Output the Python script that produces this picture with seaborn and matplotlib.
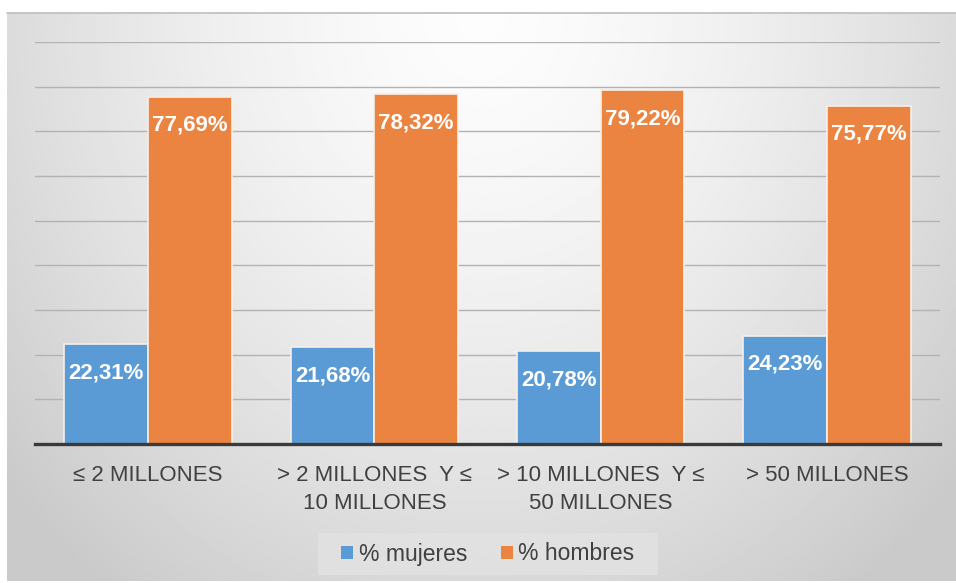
import numpy as np
import pandas as pd
import matplotlib
matplotlib.use("Agg")
import matplotlib.pyplot as plt
from matplotlib.lines import Line2D
from matplotlib.patches import Patch, Rectangle
import seaborn as sns

# Data
categorias = [
    "≤ 2 MILLONES",
    "> 2 MILLONES  Y ≤\n10 MILLONES",
    "> 10 MILLONES  Y ≤\n50 MILLONES",
    "> 50 MILLONES",
]
mujeres = [22.31, 21.68, 20.78, 24.23]
hombres = [77.69, 78.32, 79.22, 75.77]
series = ["% mujeres", "% hombres"]
colores = ["#5B9BD5", "#EC8441"]

df = pd.DataFrame({
    "categoria": categorias * 2,
    "serie": [series[0]] * len(categorias) + [series[1]] * len(categorias),
    "valor": mujeres + hombres,
})

sns.set_theme(style="white")
plt.rcParams["font.family"] = ["Liberation Sans", "DejaVu Sans"]

W, H = 956, 583
fig = plt.figure(figsize=(W / 100, H / 100), dpi=100, facecolor="white")

# Soft gradient panel behind the chart
bg = fig.add_axes([7 / W, 2 / H, 1 - 7 / W, (H - 13 - 2) / H])
ny, nx = 300, 500
yy, xx = np.mgrid[0:1:ny * 1j, 0:1:nx * 1j]
r = np.sqrt(((xx - 0.5) / 0.55) ** 2 + (yy / 1.05) ** 2)
shade = np.clip(0.99 - 0.15 * r ** 1.5, 0.79, 1.0)
bg.imshow(shade, cmap="gray", vmin=0, vmax=1, aspect="auto",
          extent=[0, 1, 1, 0], interpolation="bilinear")
bg.set_axis_off()
fig.add_artist(Line2D([7 / W, 1], [1 - 13 / H, 1 - 13 / H],
                      transform=fig.transFigure, color="#bdbdbd", lw=1.2))

# Legend backdrop
fig.add_artist(Rectangle((318 / W, 1 - 575 / H), 340 / W, 42 / H,
                         transform=fig.transFigure, facecolor="#e2e2e2",
                         edgecolor="none", alpha=0.85))

# Bars
ax = fig.add_axes([35 / W, 139 / H, 905 / W, 402 / H])
ax.patch.set_alpha(0)
sns.barplot(data=df, x="categoria", y="valor", hue="serie", palette=colores,
            width=0.74, saturation=1, edgecolor="#f6efe8", linewidth=1.2,
            legend=False, ax=ax)

ax.set_ylim(0, 90)
ax.set_yticks(range(0, 91, 10))
ax.yaxis.grid(True, color="#b3b3b3", lw=1)
ax.set_axisbelow(True)
ax.set_yticklabels([])
ax.set_xlabel("")
ax.set_ylabel("")
for s in ["left", "right", "top"]:
    ax.spines[s].set_visible(False)
ax.spines["bottom"].set_color("#3a3a3a")
ax.spines["bottom"].set_linewidth(2.4)
ax.tick_params(axis="both", length=0)
ax.tick_params(axis="x", pad=15, labelsize=16, labelcolor="#404040")
plt.setp(ax.get_xticklabels(), linespacing=1.42)

def fmt(v):
    return f"{v:.2f}".replace(".", ",") + "%"

for cont, vals in zip(ax.containers, [mujeres, hombres]):
    for bar, v in zip(cont, vals):
        x = bar.get_x() + bar.get_width() / 2
        ax.annotate(fmt(v), (x, v), xytext=(0, -20.5), textcoords="offset points",
                    ha="center", va="center", color="white",
                    fontweight="bold", fontsize=16)

handles = [Patch(facecolor=c, edgecolor="none") for c in colores]
leg = fig.legend(handles, series, loc="center", bbox_to_anchor=(488 / W, 1 - 554 / H),
                 ncol=2, frameon=False, fontsize=16.5, handlelength=0.5, handleheight=0.5,
                 handletextpad=0.25, columnspacing=1.5, borderaxespad=0)
for t in leg.get_texts():
    t.set_color("#404040")

fig.savefig("out.png", dpi=100, facecolor="white")
